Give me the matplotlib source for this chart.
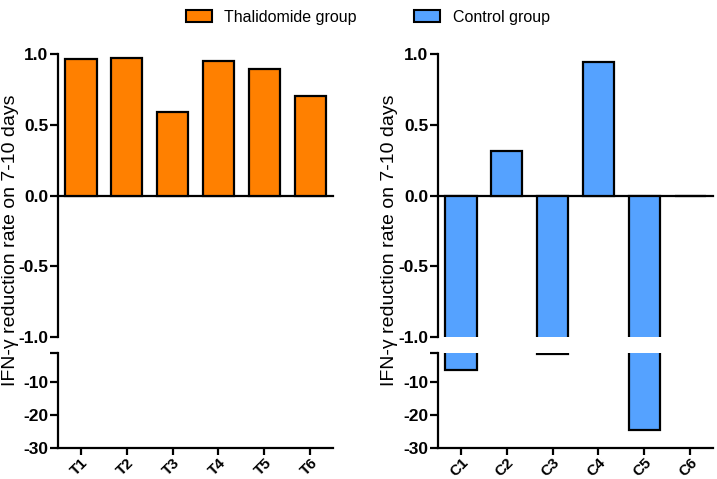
import matplotlib
matplotlib.use("Agg")
import matplotlib.pyplot as plt
from matplotlib.patches import Patch

plt.rcParams['font.family'] = ['Liberation Sans', 'DejaVu Sans']

t_labels = ["T1", "T2", "T3", "T4", "T5", "T6"]
t_values = [0.966, 0.971, 0.589, 0.952, 0.893, 0.700]
c_labels = ["C1", "C2", "C3", "C4", "C5", "C6"]
c_values = [-6.2, 0.316, -1.3, 0.94, -24.4, 0.0]

orange = "#FF8000"
blue = "#55A2FF"
ylabel = "IFN-\u03b3 reduction rate on 7-10 days"

fig = plt.figure(figsize=(7.17, 4.79), dpi=100)

W, H = 717, 479
def ax_at(x0, y0, x1, y1):
    return fig.add_axes([x0 / W, 1 - y1 / H, (x1 - x0) / W, (y1 - y0) / H])

panels = [
    (58, 333, t_labels, t_values, orange, 11),
    (438, 713, c_labels, c_values, blue, 390),
]

lw = 1.6
fs = 12.5
xfs = 11
for x0, x1, labels, vals, col, labx in panels:
    top = ax_at(x0, 54, x1, 337)
    bot = ax_at(x0, 353, x1, 448)
    xs = list(range(len(labels)))
    for ax in (top, bot):
        ax.bar(xs, vals, width=0.68, color=col, edgecolor="black", linewidth=lw, zorder=3)
        ax.set_xlim(-0.5, 5.5)
        ax.spines['top'].set_visible(False)
        ax.spines['right'].set_visible(False)
        ax.spines['left'].set_linewidth(lw)
        ax.spines['bottom'].set_linewidth(lw)
        ax.tick_params(axis='y', width=lw, length=6, labelsize=fs, pad=1)
        ax.tick_params(axis='x', width=lw, length=5, labelsize=xfs, pad=0.5)
    top.set_ylim(-1.0, 1.0)
    top.set_yticks([-1.0, -0.5, 0.0, 0.5, 1.0])
    top.set_yticklabels(["-1.0", "-0.5", "0.0", "0.5", "1.0"], fontweight='bold', fontsize=fs)
    top.spines['bottom'].set_position(('data', 0))
    top.set_xticks([])
    bot.set_ylim(-30, -1)
    bot.set_yticks([-30, -20, -10, -1])
    bot.set_yticklabels(["-30", "-20", "-10", ""], fontweight='bold', fontsize=fs)
    bot.set_xticks(xs)
    bot.set_xticklabels(labels, rotation=45, fontweight='bold', fontsize=xfs,
                        ha='right', rotation_mode='anchor')
    fig.text(labx / W, 1 - 240 / H, ylabel, rotation=90, ha='center', va='center',
             fontsize=14)

handles = [Patch(facecolor=orange, edgecolor='black', linewidth=1.5, label="Thalidomide group"),
           Patch(facecolor=blue, edgecolor='black', linewidth=1.5, label="Control group")]
fig.legend(handles=handles, loc='upper center', bbox_to_anchor=(0.513, 1.01), ncol=2,
           frameon=False, fontsize=11.5, columnspacing=3.6, handlelength=1.6, handleheight=0.8)

fig.savefig("out.png", dpi=100)
